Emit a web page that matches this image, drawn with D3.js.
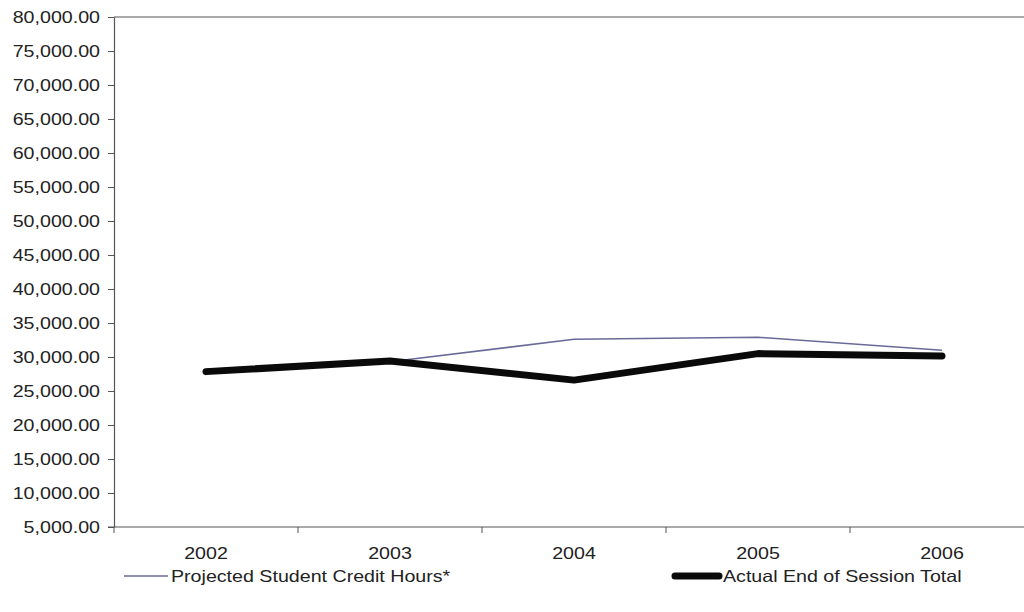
<!DOCTYPE html>
<html>
<head>
<meta charset="utf-8">
<script src="https://cdn.jsdelivr.net/npm/d3@7"></script>
<style>
  html, body { margin: 0; padding: 0; background: #fff; }
  svg { display: block; }
  text { font-family: "Liberation Sans", Arial, sans-serif; fill: #222; }
</style>
</head>
<body>
<svg id="chart" width="1024" height="612"></svg>
<script>
const years = ["2002", "2003", "2004", "2005", "2006"];
const projected = [28200, 29300, 32600, 32900, 31000];
const actual = [27850, 29400, 26600, 30500, 30150];
const yTicks = [5000, 10000, 15000, 20000, 25000, 30000, 35000, 40000, 45000, 50000, 55000, 60000, 65000, 70000, 75000, 80000];
const seriesNames = ["Projected Student Credit Hours*", "Actual End of Session Total"];

const svg = d3.select("#chart");
const margin = { left: 114, top: 17, right: -10, bottom: 85 };
const W = 1024, H = 612;
const stretch = 1.19;
const fs = 16.5;

const x = d3.scaleBand().domain(years).range([margin.left, W - margin.right]).padding(0);
const y = d3.scaleLinear().domain([5000, 80000]).range([H - margin.bottom, margin.top]);

// top border line
svg.append("line")
  .attr("x1", margin.left).attr("x2", W)
  .attr("y1", y(80000)).attr("y2", y(80000))
  .attr("stroke", "#555").attr("stroke-width", 1.2);

// Y axis
const fmt = d3.format(",.2f");
const yAxis = svg.append("g")
  .attr("transform", `translate(${margin.left},0)`)
  .call(d3.axisLeft(y).tickValues(yTicks).tickFormat(fmt).tickSize(6).tickSizeOuter(0));
yAxis.select(".domain").attr("stroke", "#555").attr("stroke-width", 1.2);
yAxis.selectAll(".tick line").attr("stroke", "#555");
yAxis.selectAll(".tick text")
  .attr("font-size", fs)
  .attr("x", -14 / stretch)
  .attr("transform", `scale(${stretch},1)`)
  .style("font-family", "'Liberation Sans', Arial, sans-serif")
  .attr("fill", "#222");

// X axis
const xAxisG = svg.append("g")
  .attr("transform", `translate(0,${y(5000)})`)
  .call(d3.axisBottom(x).tickSize(0).tickSizeOuter(0));
xAxisG.select(".domain").remove();
xAxisG.append("line")
  .attr("x1", margin.left - 6).attr("x2", W)
  .attr("stroke", "#555").attr("stroke-width", 1.2);
// category boundary ticks
const bounds = years.map(d => x(d));
xAxisG.selectAll(".btick").data(bounds).enter().append("line")
  .attr("class", "btick")
  .attr("x1", d => d).attr("x2", d => d)
  .attr("y1", 0).attr("y2", 6)
  .attr("stroke", "#555");
xAxisG.selectAll(".tick text")
  .attr("font-size", fs)
  .attr("x", 0)
  .attr("y", 0)
  .attr("dy", "1.95em")
  .attr("transform", `scale(${stretch},1)`)
  .style("font-family", "'Liberation Sans', Arial, sans-serif")
  .attr("fill", "#222");

const line = d3.line()
  .x((d, i) => x(years[i]) + x.bandwidth() / 2)
  .y(d => y(d));

svg.append("path")
  .datum(projected)
  .attr("d", line)
  .attr("fill", "none")
  .attr("stroke", "#6a6a98")
  .attr("stroke-width", 1.6);

svg.append("path")
  .datum(actual)
  .attr("d", line)
  .attr("fill", "none")
  .attr("stroke", "#0a0a0a")
  .attr("stroke-width", 7)
  .attr("stroke-linecap", "round")
  .attr("stroke-linejoin", "round");

// Legend
const legY = 576;
const leg = svg.append("g");
leg.append("line").attr("x1", 124).attr("x2", 168).attr("y1", legY).attr("y2", legY)
  .attr("stroke", "#6a6a98").attr("stroke-width", 1.6);
leg.append("text").attr("transform", `translate(171,${legY}) scale(${stretch},1)`)
  .attr("dy", "0.35em").attr("font-size", fs).text(seriesNames[0]);
leg.append("line").attr("x1", 675).attr("x2", 719).attr("y1", legY).attr("y2", legY)
  .attr("stroke", "#0a0a0a").attr("stroke-width", 7).attr("stroke-linecap", "round");
leg.append("text").attr("transform", `translate(723,${legY}) scale(${stretch},1)`)
  .attr("dy", "0.35em").attr("font-size", fs).text(seriesNames[1]);
</script>
</body>
</html>
